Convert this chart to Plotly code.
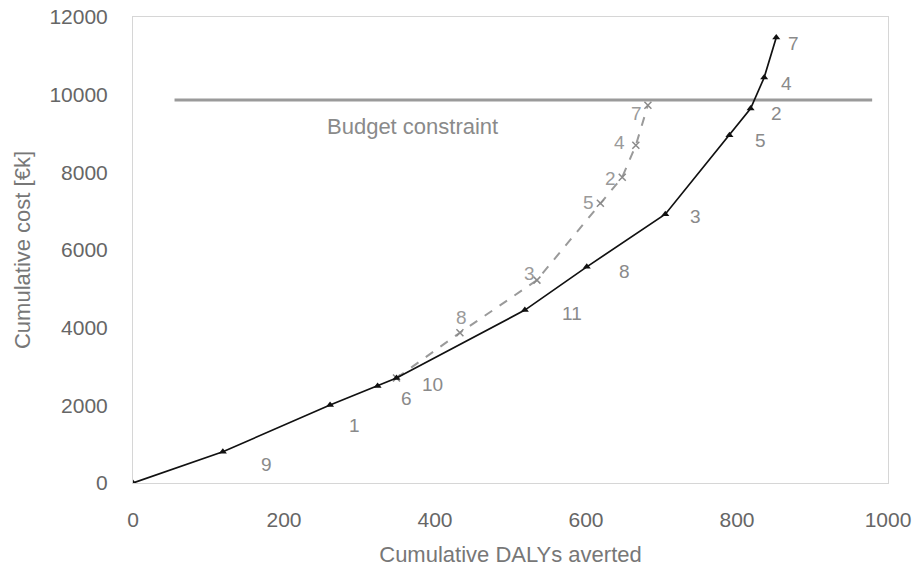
import plotly.graph_objects as go

# Black curve (all interventions ranked)
black_x = [0, 119, 261, 324, 349, 519, 601, 705, 790, 818, 836, 852]
black_y = [0, 805, 2007, 2496, 2702, 4452, 5566, 6922, 8955, 9642, 10440, 11469]
black_labels = ["", "9", "1", "6", "10", "11", "8", "3", "5", "2", "4", "7"]

# Grey dashed curve (alternative ranking)
grey_x = [349, 433, 535, 619, 648, 666, 682]
grey_y = [2702, 3870, 5224, 7205, 7874, 8698, 9727]
grey_labels = ["", "8", "3", "5", "2", "4", "7"]

budget_value = 9860
budget_x = [55, 979]
budget_text = "Budget constraint"

x_ticks = [0, 200, 400, 600, 800, 1000]
x_ticktext = ["0", "200", "400", "600", "800", "1000"]
y_ticks = [0, 2000, 4000, 6000, 8000, 10000, 12000]
y_ticktext = ["0", "2000", "4000", "6000", "8000", "10000", "12000"]

FONT = "Liberation Sans, Arial, sans-serif"

fig = go.Figure()

fig.add_trace(go.Scatter(
    x=budget_x, y=[budget_value, budget_value], mode="lines",
    line=dict(color="#9a9a9a", width=3), hoverinfo="skip", showlegend=False))

fig.add_trace(go.Scatter(
    x=grey_x, y=grey_y, mode="lines+markers",
    line=dict(color="#9a9a9a", width=2, dash="dash"),
    marker=dict(symbol="x-thin", size=7, line=dict(color="#8a8a8a", width=1.5)),
    showlegend=False))

fig.add_trace(go.Scatter(
    x=black_x, y=black_y, mode="lines+markers",
    line=dict(color="#111111", width=1.7),
    marker=dict(symbol="triangle-up", size=7, color="#111111"),
    showlegend=False))

# label offsets in pixels (style only)
black_off = [(0, 0), (44, -13), (24, -20), (29, -12), (36, -6), (47, -3), (38, -5),
             (30, -2), (31, -5), (26, -5), (22, -6), (17, -6)]
grey_off = [(0, 0), (2, 15), (-7, 7), (-12, 1), (-12, -1), (-16, 3), (-11, -8)]

for xv, yv, t, (dx, dy) in zip(black_x, black_y, black_labels, black_off):
    if t:
        fig.add_annotation(x=xv, y=yv, text=t, showarrow=False, xshift=dx, yshift=dy,
                           font=dict(family=FONT, size=19, color="#8a8a8a"))
for xv, yv, t, (dx, dy) in zip(grey_x, grey_y, grey_labels, grey_off):
    if t:
        fig.add_annotation(x=xv, y=yv, text=t, showarrow=False, xshift=dx, yshift=dy,
                           font=dict(family=FONT, size=19, color="#9a9a9a"))

fig.add_annotation(x=254, y=9187, text=budget_text, showarrow=False, xanchor="left",
                   font=dict(family=FONT, size=22, color="#8a8a8a"))

fig.update_layout(
    width=920, height=573,
    margin=dict(l=125, r=40, t=9, b=98),
    paper_bgcolor="white", plot_bgcolor="white",
    font=dict(family=FONT, size=21, color="#666666"),
    xaxis=dict(range=[0, 1000], tickvals=x_ticks, ticktext=x_ticktext,
               showgrid=False, zeroline=False, automargin=False,
               ticklabeloverflow="allow",
               showline=True, linecolor="#d6d6d6", linewidth=1, mirror=True,
               ticks="", ticklabelstandoff=18,
               title=dict(text="Cumulative DALYs averted", standoff=16,
                          font=dict(size=22, color="#777777"))),
    yaxis=dict(range=[0, 12000], tickvals=y_ticks, ticktext=y_ticktext,
               showgrid=False, zeroline=False, automargin=False,
               ticklabeloverflow="allow",
               showline=True, linecolor="#d6d6d6", linewidth=1, mirror=True,
               ticks="", ticklabelstandoff=20,
               title=dict(text="Cumulative cost [€k]", standoff=12,
                          font=dict(size=22, color="#777777"))),
)

fig.write_html("out.html")
